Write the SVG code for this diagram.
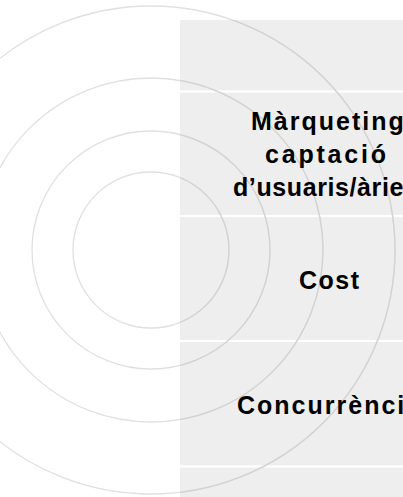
<svg xmlns="http://www.w3.org/2000/svg" width="403" height="497" viewBox="0 0 403 497">
<style>
.bg{fill:#eeeeee}
.sep{stroke:#ffffff;stroke-width:2}
.ring{fill:none;stroke:#e0e0e0;stroke-width:1.3}
.ring-in{fill:none;stroke:#d2d2d2;stroke-width:1.3}
.lbl{font-family:"Liberation Sans",Arial,sans-serif;font-size:25px;font-weight:bold;letter-spacing:2px;fill:#000}
</style>
<defs>
<clipPath id="panelClip"><rect x="180" y="20" width="223" height="477"/></clipPath>
</defs>
<rect width="403" height="497" fill="#ffffff"/>
<g id="panel">
<rect class="bg" x="180" y="20" width="223" height="477"/>
<line class="sep" x1="180" y1="91.5" x2="403" y2="91.5"/>
<line class="sep" x1="180" y1="216" x2="403" y2="216"/>
<line class="sep" x1="180" y1="341" x2="403" y2="341"/>
<line class="sep" x1="180" y1="466.5" x2="403" y2="466.5"/>
</g>
<g id="rings">
<circle class="ring" cx="151" cy="250" r="78"/>
<circle class="ring" cx="151" cy="250" r="119"/>
<circle class="ring" cx="151" cy="250" r="172"/>
<circle class="ring" cx="151" cy="250" r="244"/>
<g clip-path="url(#panelClip)">
<circle class="ring-in" cx="151" cy="250" r="78"/>
<circle class="ring-in" cx="151" cy="250" r="119"/>
<circle class="ring-in" cx="151" cy="250" r="172"/>
<circle class="ring-in" cx="151" cy="250" r="244"/>
</g>
</g>
<g id="row-marqueting">
<text class="lbl" x="251" y="129.5">Màrqueting</text>
<text class="lbl" x="265" y="163" style="letter-spacing:2.8px">captació</text>
<text class="lbl" x="233" y="195.5" style="letter-spacing:0.6px">d’usuaris/àries</text>
</g>
<g id="row-cost">
<text class="lbl" x="299" y="288.5" style="letter-spacing:1.5px">Cost</text>
</g>
<g id="row-concurrencia">
<text class="lbl" x="237" y="413.5">Concurrència</text>
</g>
</svg>
